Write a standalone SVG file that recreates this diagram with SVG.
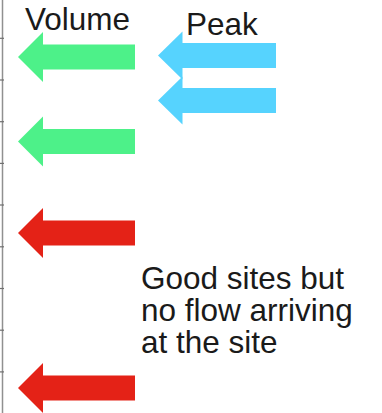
<svg xmlns="http://www.w3.org/2000/svg" width="382" height="413" viewBox="0 0 382 413">
<style>
.lbl{font-family:"Liberation Sans",Arial,sans-serif;font-size:31.5px;fill:#1a1a1a}
.green{fill:#4df189}
.blue{fill:#56d3fe}
.red{fill:#e42217}
.axis{stroke:#909090;stroke-width:1.5;fill:none}
.tick{stroke:#707070;stroke-width:1.2}
</style>
<defs>
<polygon id="arr" points="0,0 25,-25 25,-12.5 117,-12.5 117,12.5 25,12.5 25,25"/>
<polygon id="arrB" points="0,0 24.5,-24 24.5,-12.5 118,-12.5 118,12.5 24.5,12.5 24.5,24"/>
</defs>
<rect width="382" height="413" fill="#ffffff"/>
<g id="axis">
<line class="axis" x1="2.5" y1="0" x2="2.5" y2="413"/>
<line class="tick" x1="0" y1="38.3" x2="4" y2="38.3"/>
<line class="tick" x1="0" y1="80" x2="4" y2="80"/>
<line class="tick" x1="0" y1="121.7" x2="4" y2="121.7"/>
<line class="tick" x1="0" y1="163.4" x2="4" y2="163.4"/>
<line class="tick" x1="0" y1="205" x2="4" y2="205"/>
<line class="tick" x1="0" y1="246.8" x2="4" y2="246.8"/>
<line class="tick" x1="0" y1="288.5" x2="4" y2="288.5"/>
<line class="tick" x1="0" y1="330.2" x2="4" y2="330.2"/>
<line class="tick" x1="0" y1="371.9" x2="4" y2="371.9"/>
</g>
<g id="connectors">
<use id="green1" href="#arr" class="green" x="18" y="57"/>
<use id="green2" href="#arr" class="green" x="18" y="141.5"/>
<use id="red1" href="#arr" class="red" x="18" y="233"/>
<use id="red2" href="#arr" class="red" x="18" y="388"/>
<use id="blue1" href="#arrB" class="blue" x="158" y="55.5"/>
<use id="blue2" href="#arrB" class="blue" x="158" y="100.5"/>
</g>
<g id="label-volume"><text class="lbl" x="25" y="30">Volume</text></g>
<g id="label-peak"><text class="lbl" x="186" y="35">Peak</text></g>
<g id="label-note">
<text class="lbl" x="141" y="289">Good sites but</text>
<text class="lbl" x="141" y="321">no flow arriving</text>
<text class="lbl" x="141" y="353">at the site</text>
</g>
</svg>
